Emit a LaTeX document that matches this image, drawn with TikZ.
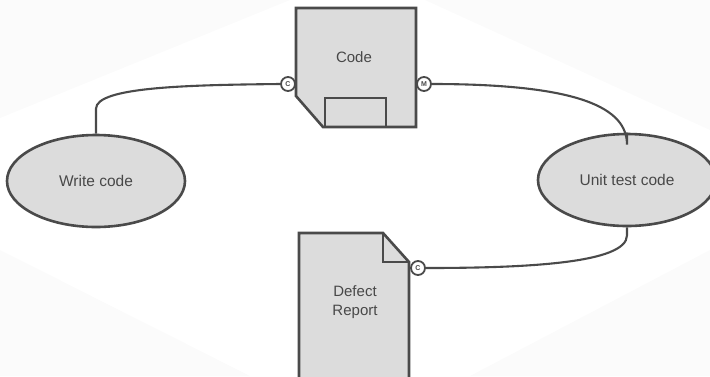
\documentclass[tikz,border=0pt]{standalone}
\usepackage{fontspec}
\setmainfont{Liberation Sans}
\usetikzlibrary{shapes.geometric}
\definecolor{shapefill}{HTML}{DCDCDC}
\definecolor{edge}{HTML}{4A4A4A}
\definecolor{ink}{HTML}{484848}
\definecolor{haze}{HTML}{FBFBFB}
\tikzset{
  shapeline/.style={draw=edge, line width=2.6pt, fill=shapefill, line join=miter},
  procbox/.style={ellipse, shapeline, minimum width=178pt, minimum height=92pt, inner sep=0pt,
    text=ink, font=\fontsize{15.5}{18}\selectfont},
  label/.style={text=ink, font=\fontsize{15}{18.5}\selectfont, align=center},
  badge/.style={circle, draw=edge, line width=1.8pt, fill=white, minimum size=14pt, inner sep=0pt,
    text=ink, font=\fontsize{7}{7}\selectfont\bfseries},
  link/.style={draw=edge, line width=2.1pt},
}
\begin{document}
\begin{tikzpicture}[x=1pt, y=-1pt]
\useasboundingbox (0,0) rectangle (710,376);
% faint corners of the sheet
\fill[haze] (0,0) -- (290,0) -- (0,118) -- cycle;
\fill[haze] (425,0) -- (710,0) -- (710,130) -- cycle;
\fill[haze] (0,250) -- (0,376) -- (250,376) -- cycle;
\fill[haze] (710,250) -- (710,376) -- (470,376) -- cycle;

% process ellipses
\node[procbox] (write) at (96,181) {Write code};
\node[procbox] (unit) at (627,180) {Unit test code};

% "Code" document with cut corner and inner tab
\draw[shapeline] (296,8) -- (416,8) -- (416,127) -- (323,127) -- (296,96) -- cycle;
\draw[draw=edge, line width=2.6pt] (325,127) -- (325,98) -- (386,98) -- (386,127);
\node[label] (code) at (354,57) {Code};

% "Defect Report" document with folded corner
\draw[shapeline] (299,233) -- (383,233) -- (409,262) -- (409,380) -- (299,380) -- cycle;
\draw[draw=edge, line width=2.6pt] (383,233) -- (383,262) -- (409,262);
\node[label] (defect) at (355,302) {Defect\\Report};

% port badges
\node[badge] (pc) at (288,84) {C};
\node[badge] (pm) at (424,84) {M};
\node[badge] (pd) at (418,268) {C};

% connectors
\draw[link] (write.north) -- ++(0,-25) .. controls +(0,-22) and +(-90,1) .. (pc.west);
\draw[link] (pm.east) .. controls +(150,0) and +(0,-36) .. ([yshift=-12pt]unit.north) -- (unit.north);
\draw[link] (unit.south) -- ++(0,8) .. controls +(0,28) and +(100,0) .. (pd.east);
\end{tikzpicture}
\end{document}
